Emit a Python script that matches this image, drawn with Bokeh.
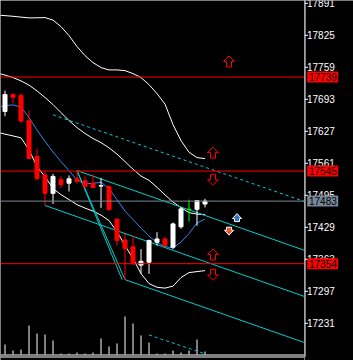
from bokeh.plotting import figure
from bokeh.layouts import row
from bokeh.models import Range1d, Span
from bokeh.core.properties import value
from bokeh.embed import file_html
from bokeh.resources import INLINE

# ---------------- data ----------------
bar_index = list(range(26))
open_ = [17668, 17703, 17701, 17649, 17575, 17537, 17499, 17527, 17520, 17529, 17525, 17520, 17514,
         17513, 17446, 17403, 17389, 17351, 17357, 17398, 17405, 17388, 17430, 17466, 17466, 17477]
high = [17711, 17705, 17705, 17670, 17591, 17546, 17539, 17534, 17536, 17546, 17534, 17539, 17531,
        17515, 17446, 17415, 17412, 17384, 17403, 17419, 17410, 17439, 17470, 17486, 17485, 17488]
low = [17658, 17684, 17644, 17570, 17528, 17474, 17477, 17510, 17503, 17519, 17511, 17510, 17469,
       17465, 17391, 17321, 17350, 17333, 17333, 17391, 17389, 17384, 17426, 17441, 17432, 17470]
close = [17703, 17697, 17648, 17571, 17529, 17499, 17534, 17517, 17529, 17524, 17513, 17511, 17515,
         17465, 17402, 17385, 17357, 17359, 17402, 17405, 17391, 17436, 17467, 17466, 17484, 17483]
volume = [250, 100, 125, 725, 525, 500, 350, 25, 25, 50, 25, 50, 400, 200, 275, 950, 775, 475, 300,
          25, 25, 100, 50, 100, 375, 75]

line_index = list(range(-1, 26))
bb_upper = [17866.7, 17865.6, 17864.2, 17862.5, 17860.9, 17861.1, 17861.5, 17856.4, 17842.9, 17824.4,
            17801.7, 17783.1, 17768.7, 17758.4, 17753.6, 17753.6, 17752.2, 17746.0, 17737.8, 17723.3,
            17704.8, 17683.1, 17640.8, 17607.8, 17583.7, 17572.8, 17570.7]
bb_middle = [17747.5, 17742.9, 17737.8, 17731.0, 17722.3, 17710.3, 17696.7, 17682.1, 17665.6, 17649.1,
             17634.6, 17622.5, 17612.1, 17603.7, 17593.0, 17579.8, 17564.5, 17548.8, 17534.6, 17525.9,
             17511.5, 17495.8, 17481.0, 17469.6, 17459.3, 17456.2, 17455.2]
bb_lower = [17625.3, 17621.2, 17617.5, 17613.6, 17588.8, 17554.2, 17533.6, 17508.8, 17496.4, 17486.1,
            17475.8, 17468.6, 17462.4, 17454.2, 17442.8, 17420.1, 17391.3, 17364.5, 17333.5, 17312.9,
            17305.3, 17303.6, 17307.7, 17325.3, 17335.6, 17337.6, 17339.7]
ma_fast = [17675.9, 17680.0, 17681.5, 17676.9, 17655.3, 17629.5, 17606.4, 17584.3, 17564.5, 17546.0,
           17526.4, 17518.5, 17519.7, 17521.8, 17508.8, 17486.1, 17462.4, 17444.9, 17427.4, 17410.9,
           17397.4, 17389.2, 17386.5, 17398.5, 17416.0, 17437.7, 17446.0]

# pitchfork anchors (bar, price)
pitch_x = [5, 9, 15]
pitch_y = [17474, 17546, 17321]
# second steep trend line
trend2_x = [9, 14.64]
trend2_y = [17546, 17321]
# dashed lines
dash_top_x = [6, 25]
dash_top_y = [17661, 17553]
dash_bot_x = [18, 25]
dash_bot_y = [17207, 17168]

red_levels = [17739, 17545, 17354]
bid_level = 17483
tick_values = [17231, 17297, 17363, 17429, 17495, 17561, 17627, 17693, 17759, 17825, 17891]

arrow_up_red_x = [28, 26, 26]
arrow_up_red_y = [17771, 17583, 17373]
arrow_dn_red_x = [26, 26]
arrow_dn_red_y = [17527, 17331]
arrow_up_blue_x = [29]
arrow_up_blue_y = [17448]
arrow_dn_orange_x = [28]
arrow_dn_orange_y = [17422]

# ---------------- layout ----------------
FRAME_W, H = 304, 360
SIDE_W = 49
PX_PER_BAR = 8.0
PRICE_PER_PX = 2.0625
X0 = -4.5 / PX_PER_BAR
X1 = X0 + FRAME_W / PX_PER_BAR
Y1 = 17896.78
Y0 = Y1 - H * PRICE_PER_PX
VOL_PER_PX = 25.0
MAIN_BOTTOM_PX = 354

RED = "#ff0000"
CYAN = "#00ced1"
GRAY = "#778899"
FONT = "Liberation Sans"

yr = Range1d(Y0, Y1)
p = figure(width=FRAME_W, height=H, x_range=Range1d(X0, X1), y_range=yr,
           output_backend="svg", toolbar_location=None,
           x_axis_location=None, y_axis_location=None,
           background_fill_color="black", border_fill_color="black",
           outline_line_color=None,
           min_border_left=0, min_border_right=0, min_border_top=0, min_border_bottom=0)
p.grid.grid_line_color = None
p.extra_y_ranges = {"vol": Range1d(-(H - MAIN_BOTTOM_PX) * VOL_PER_PX, MAIN_BOTTOM_PX * VOL_PER_PX)}

# horizontal levels
for lv in red_levels:
    p.add_layout(Span(location=lv, dimension="width", line_color=RED, line_width=1))
p.add_layout(Span(location=bid_level, dimension="width", line_color=GRAY, line_width=1))

# volumes
p.segment(x0=bar_index, y0=[0] * len(volume), x1=bar_index, y1=volume, y_range_name="vol",
          line_color="white", line_width=1)

# bands and MA
p.line(line_index, bb_upper, line_color="white", line_width=1)
p.line(line_index, bb_middle, line_color="white", line_width=1)
p.line(line_index, bb_lower, line_color="white", line_width=1)
p.line(line_index, ma_fast, line_color="#2e8bef", line_width=1)

# pitchfork
mx = (pitch_x[1] + pitch_x[2]) / 2
my = (pitch_y[1] + pitch_y[2]) / 2
slope = (my - pitch_y[0]) / (mx - pitch_x[0])
fx0, fy0, fx1, fy1 = [], [], [], []
for px_, py_ in zip(pitch_x, pitch_y):
    fx0.append(px_); fy0.append(py_)
    fx1.append(X1); fy1.append(py_ + slope * (X1 - px_))
p.segment(x0=fx0, y0=fy0, x1=fx1, y1=fy1, line_color=CYAN, line_width=1)
p.line([pitch_x[1], pitch_x[2]], [pitch_y[1], pitch_y[2]], line_color=CYAN, line_width=1)
p.line(trend2_x, trend2_y, line_color=CYAN, line_width=1)

# dashed lines
dslope = (dash_top_y[1] - dash_top_y[0]) / (dash_top_x[1] - dash_top_x[0])
p.line([dash_top_x[0], X1], [dash_top_y[0], dash_top_y[0] + dslope * (X1 - dash_top_x[0])],
       line_color=CYAN, line_width=1, line_dash="3 3")
p.line(dash_bot_x, dash_bot_y, line_color=CYAN, line_width=1, line_dash="3 3")

# candles
colors = []
for o, c in zip(open_, close):
    colors.append("white" if c > o else (RED if c < o else "#00ff00"))
top = [max(o, c) for o, c in zip(open_, close)]
bot = [min(o, c) for o, c in zip(open_, close)]
p.segment(x0=bar_index, y0=low, x1=bar_index, y1=high, line_color=colors, line_width=1)
p.vbar(x=bar_index, width=4 / PX_PER_BAR, top=top, bottom=bot, fill_color=colors, line_color=colors,
       line_width=1)

# arrows
def arrow_polys(xs, ys, sx, sy, flip):
    out_x, out_y = [], []
    for x, y in zip(xs, ys):
        out_x.append([x + dx / PX_PER_BAR for dx in sx])
        out_y.append([y - (-dy if flip else dy) * PRICE_PER_PX for dy in sy])
    return out_x, out_y

BIG_X = [0, 5.5, 2.5, 2.5, -2.5, -2.5, -5.5]
BIG_Y = [-5.5, 0, 0, 5.5, 5.5, 0, 0]
SM_X = [0, 4.5, 2.5, 2.5, -2.5, -2.5, -4.5]
SM_Y = [-4.5, 0.5, 0.5, 3.5, 3.5, 0.5, 0.5]

ax_, ay_ = arrow_polys(arrow_up_red_x, arrow_up_red_y, BIG_X, BIG_Y, False)
p.patches(ax_, ay_, fill_color="black", line_color=RED, line_width=1)
ax_, ay_ = arrow_polys(arrow_dn_red_x, arrow_dn_red_y, BIG_X, BIG_Y, True)
p.patches(ax_, ay_, fill_color="black", line_color=RED, line_width=1)
ax_, ay_ = arrow_polys(arrow_up_blue_x, arrow_up_blue_y, SM_X, SM_Y, False)
p.patches(ax_, ay_, fill_color="#2f78cc", line_color="white", line_width=1)
ax_, ay_ = arrow_polys(arrow_dn_orange_x, arrow_dn_orange_y, SM_X, SM_Y, True)
p.patches(ax_, ay_, fill_color="#ec5630", line_color="white", line_width=1)

# separators at bottom of main window
for px_row in (354.5, 356.5):
    p.add_layout(Span(location=Y1 - px_row * PRICE_PER_PX, dimension="width",
                      line_color="white", line_width=1))

# ---------------- price scale panel ----------------
s = figure(width=SIDE_W, height=H, x_range=Range1d(0, SIDE_W), y_range=yr,
           output_backend="svg", toolbar_location=None,
           x_axis_location=None, y_axis_location=None,
           background_fill_color="black", border_fill_color="black",
           outline_line_color=None,
           min_border_left=0, min_border_right=0, min_border_top=0, min_border_bottom=0)
s.grid.grid_line_color = None
axis_bottom = Y1 - 356.5 * PRICE_PER_PX
s.segment(x0=[0.5], y0=[axis_bottom], x1=[0.5], y1=[Y1], line_color="white", line_width=1)
s.segment(x0=[0.5] * len(tick_values), y0=tick_values, x1=[3.5] * len(tick_values), y1=tick_values,
          line_color="white", line_width=1)
s.text(x=[2.5] * len(tick_values), y=tick_values, text=[str(t) for t in tick_values],
       text_color="white", text_font=value(FONT), text_font_size="10px",
       text_align="left", text_baseline="middle")

box_levels = red_levels + [bid_level]
box_colors = [RED] * len(red_levels) + [GRAY]
s.rect(x=[18.2] * len(box_levels), y=box_levels, width=31, height=11,
       width_units="screen", height_units="screen",
       fill_color=box_colors, line_color=None)
s.text(x=[4.5] * len(box_levels), y=box_levels, text=[str(v) for v in box_levels],
       text_color="black", text_font=value(FONT), text_font_size="10px",
       text_align="left", text_baseline="middle")

layout = row(p, s, spacing=0)
open("out.html", "w").write(file_html(layout, INLINE))
